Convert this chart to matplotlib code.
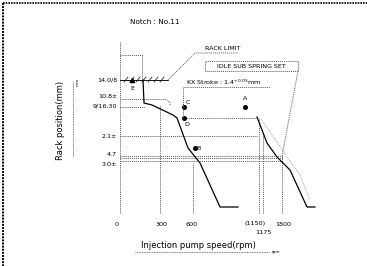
import matplotlib
matplotlib.use("Agg")
import matplotlib.pyplot as plt

# schematic governor chart, units are arbitrary (patent drawing, not to scale)
# curve at notch 11, idle sub spring set
curve1_x = [23, 24, 32, 53, 57, 68, 80, 100, 118]
curve1_y = [134, 111, 109, 99, 96, 66, 51, 7, 7]
curve2_x = [137, 147, 157, 170, 187, 195]
curve2_y = [97, 71, 57, 44, 7, 7]
ghost_x = [141, 163, 180, 190]
ghost_y = [95, 63, 39, 14]

# set points
pt_names = ["C", "D", "B", "A"]
pt_x = [64, 64, 75, 125]
pt_y = [107, 96, 66, 107]
pt_lab_dx = [4, 3, 4, 0]
pt_lab_dy = [4, -6, 0, 8]

# rack position guide levels
ylev = [134, 115, 107, 78, 58, 53]
ylev_lab = ["14.0/8", "10.8±", "9/16.30", "2.1±", "4.7", "3.0±"]
ylev_lab_y = [134, 117, 108, 78, 60, 49]
ylev_end = [48, 45, 25, 137, 163, 163]

# speed ticks
xtick_pos = [0, 42, 72, 135, 163]
xtick_lab = ["0", "300", "600", "(1150)", "1800"]
xvert_pos = [40, 73, 139, 143, 162]
xvert_top = [109, 51, 96, 80, 58]

fs = 4.6
fig = plt.figure(figsize=(3.67, 2.66), dpi=100)
bg = fig.add_axes([0, 0, 1, 1])
bg.set_xlim(0, 367)
bg.set_ylim(266, 0)
bg.axis("off")
bg.plot([3, 367], [3, 3], color="k", lw=1.2, ls=(0, (1, 0.6)))
bg.plot([3, 3], [3, 266], color="k", lw=1.4, ls=(0, (1, 0.6)))

ax = fig.add_axes([120 / 367, 52 / 266, 198 / 367, 172 / 266])
ax.set_xlim(0, 198)
ax.set_ylim(0, 172)
ax.axis("off")

dot = dict(color="0.35", lw=0.7, ls=(0, (1, 1)))
# axes drawn as dotted lines
ax.plot([0, 198], [0, 0], **dot)
ax.plot([0, 0], [0, 172], **dot)
# rack limit box
ax.plot([0, 22, 22], [159, 159, 134], **dot)

for y, lab, ly, xe in zip(ylev, ylev_lab, ylev_lab_y, ylev_end):
    ax.plot([0, xe], [y, y], **dot)
    ax.text(-3, ly, lab, fontsize=fs, ha="right", va="center", clip_on=False)
ax.plot([45, 50, 50], [115, 112, 109], **dot)
ax.plot([0, 163], [56, 56], **dot)
ax.plot([63, 137], [96, 96], **dot)

for xv, yt in zip(xvert_pos, xvert_top):
    ax.plot([xv, xv], [0, yt], **dot)
for xp, lab in zip(xtick_pos, xtick_lab):
    ax.text(xp - (3 if xp == 0 else 0), -10, lab, fontsize=fs, ha="center",
            va="center", clip_on=False)
ax.text(143, -19, "1175", fontsize=fs, ha="center", va="center", clip_on=False)

# hatched rack limit line
ax.plot([0, 48], [134, 134], color="k", lw=0.6)
for hx in range(6, 48, 6):
    ax.plot([hx - 2, hx + 2], [132, 137], color="k", lw=0.5)

ax.plot(curve1_x, curve1_y, color="k", lw=0.9)
ax.plot(curve2_x, curve2_y, color="k", lw=0.9)
ax.plot(ghost_x, ghost_y, color="0.6", lw=0.6, ls=(0, (1, 1)))

ax.plot(pt_x, pt_y, "o", color="k", ms=2.6)
for n, x, y, dx, dy in zip(pt_names, pt_x, pt_y, pt_lab_dx, pt_lab_dy):
    ax.text(x + dx, y + dy, n, fontsize=fs, ha="center", va="center")
ax.plot([12], [134], "^", color="k", ms=3)
ax.text(12, 125, "E", fontsize=fs, ha="center", va="center")

# annotations
ax.text(35, 192, "Notch : No.11", fontsize=5.2, ha="center", va="center",
        clip_on=False)
ax.plot([48, 75, 118], [134, 161, 161], **dot)
ax.text(85, 165, "RACK LIMIT", fontsize=fs, ha="left", va="center")
ax.plot([85, 178, 178, 85, 85], [143, 143, 153, 153, 143], **dot)
ax.text(131, 148, "IDLE SUB SPRING SET", fontsize=fs, ha="center", va="center")
ax.plot([178, 162], [143, 58], **dot)
ax.plot([63, 63, 150], [96, 127, 127], **dot)
ax.text(66, 132, "KX Stroke : 1.4$^{+0.05}$mm", fontsize=fs, ha="left",
        va="center")

ax.text(-60, 94, "Rack position(mm)", fontsize=6, rotation=90, ha="center",
        va="center", clip_on=False)
ax.plot([-47, -47], [58, 132], color="0.3", lw=0.6, ls=(0, (1, 1)),
        clip_on=False)
ax.text(-44, 132, "mm", fontsize=3, rotation=90, ha="left", va="center",
        clip_on=False)
ax.text(78, -31, "Injection pump speed(rpm)", fontsize=6, ha="center",
        va="center", clip_on=False)
ax.plot([15, 150], [-38, -38], color="0.3", lw=0.6, ls=(0, (1, 1)),
        clip_on=False)
ax.text(152, -38, "rpm", fontsize=3, ha="left", va="center", clip_on=False)

fig.savefig("out.png", dpi=100)
